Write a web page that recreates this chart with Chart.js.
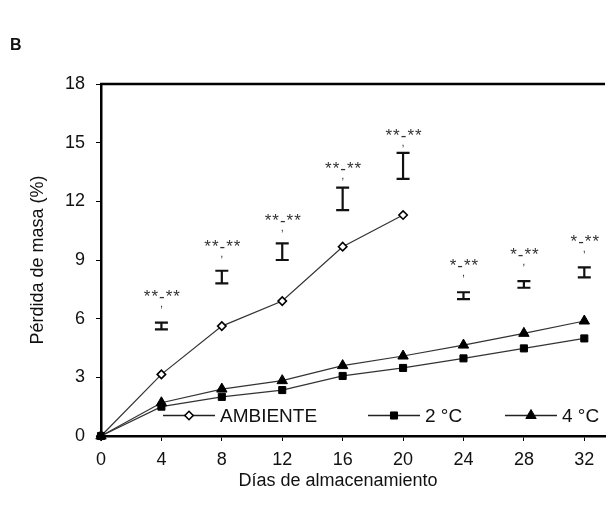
<!DOCTYPE html>
<html><head><meta charset="utf-8">
<script src="https://cdn.jsdelivr.net/npm/chart.js@4/dist/chart.umd.min.js"></script>
<style>html,body{margin:0;padding:0;background:#fff}#wrap{width:612px;height:513px;position:relative}</style>
</head><body><div id="wrap"><canvas id="c" width="612" height="513"></canvas></div>
<script>
const days = [0,4,8,12,16,20,24,28,32];
const ambiente = [0,3.15,5.62,6.9,9.68,11.3];
const frio2 = [0,1.5,2.0,2.35,3.07,3.48,3.97,4.48,4.99];
const frio4 = [0,1.7,2.4,2.83,3.6,4.09,4.65,5.25,5.88];
const barDays = [4,8,12,16,20,24,28,32];
const barLow = [5.45,7.8,9.0,11.55,13.15,7.0,7.58,8.11];
const barHigh = [5.8,8.45,9.85,12.7,14.48,7.35,7.92,8.62];
const sigLabels = ['**-**','**-**','**-**','**-**','**-**','*-**','*-**','*-**'];
const sigY = [7.38,9.94,11.25,13.9,15.61,8.95,9.51,10.19];
const yTicks = [0,3,6,9,12,15,18];
const xTicks = [0,4,8,12,16,20,24,28,32];
const seriesNames = ['AMBIENTE','2 °C','4 °C'];
const xTitle = 'Días de almacenamiento';
const yTitle = 'Pérdida de masa (%)';
const panel = 'B';

const FONT = "'Liberation Sans', Arial, sans-serif";
const pts = (arr) => arr.map((v,i)=>({x:days[i], y:v}));

const extras = {
  id:'extras',
  afterDraw(chart){
    const ctx = chart.ctx, a = chart.chartArea;
    const xs = chart.scales.x, ys = chart.scales.y;
    ctx.save();
    ctx.strokeStyle='#000'; ctx.lineWidth=2.5;
    ctx.beginPath(); ctx.moveTo(a.left-1, a.top); ctx.lineTo(a.right, a.top); ctx.stroke();
    ctx.lineWidth=2.2; ctx.strokeStyle='#111';
    barDays.forEach((d,i)=>{
      const x = xs.getPixelForValue(d);
      const y1 = ys.getPixelForValue(barLow[i]), y2 = ys.getPixelForValue(barHigh[i]);
      ctx.beginPath();
      ctx.moveTo(x, y1); ctx.lineTo(x, y2);
      ctx.moveTo(x-6.5, y1); ctx.lineTo(x+6.5, y1);
      ctx.moveTo(x-6.5, y2); ctx.lineTo(x+6.5, y2);
      ctx.stroke();
    });
    ctx.fillStyle='#333'; ctx.textAlign='center'; ctx.textBaseline='alphabetic';
    barDays.forEach((d,i)=>{
      const x = xs.getPixelForValue(d);
      const y = ys.getPixelForValue(sigY[i]);
      ctx.font = '17px ' + FONT;
      ctx.letterSpacing = '1px';
      ctx.fillText(sigLabels[i], x+1, y+10);
      ctx.letterSpacing = '0px';
      ctx.font = '11px ' + FONT;
      ctx.fillText(',', x, y+15);
    });
    const ly = a.bottom - 20.5;
    const starts = [a.left+62, a.left+267, a.left+404];
    chart.data.datasets.forEach((ds,i)=>{
      const x0 = starts[i];
      ctx.strokeStyle='#222'; ctx.lineWidth=1.3;
      ctx.beginPath(); ctx.moveTo(x0, ly); ctx.lineTo(x0+52, ly); ctx.stroke();
      ctx.fillStyle = ds.pointBackgroundColor; ctx.strokeStyle='#000'; ctx.lineWidth = ds.pointBorderWidth;
      Chart.helpers.drawPoint(ctx, {pointStyle: ds.pointStyle, radius: ds.pointRadius, borderWidth: ds.pointBorderWidth, rotation:0}, x0+26, ly);
      ctx.font = '19px ' + FONT; ctx.textAlign='left'; ctx.textBaseline='middle';
      ctx.fillStyle='#111';
      ctx.fillText(ds.label, x0+57, ly+1);
    });
    ctx.fillStyle='#111'; ctx.font = '18px ' + FONT; ctx.textAlign='center'; ctx.textBaseline='middle';
    ctx.fillText(xTitle, 338, 481);
    ctx.save(); ctx.translate(38, 260); ctx.rotate(-Math.PI/2); ctx.fillText(yTitle, 0, 0); ctx.restore();
    ctx.font = 'bold 16px ' + FONT; ctx.textAlign='left';
    ctx.fillText(panel, 10, 46);
    ctx.restore();
  }
};

const mk = (label, data, style, r, fill, bw, order) => ({
  label, data, borderColor:'#333', borderWidth:1.2, pointStyle:style, pointRadius:r,
  pointHoverRadius:r, pointBackgroundColor:fill, pointBorderColor:'#000', pointBorderWidth:bw,
  fill:false, tension:0, clip:false, order
});

new Chart(document.getElementById('c'), {
  type:'line',
  data:{datasets:[
    mk(seriesNames[0], pts(ambiente), 'rectRot', 4.2, '#fff', 1.6, 3),
    mk(seriesNames[1], pts(frio2), 'rect', 5, '#000', 1, 2),
    mk(seriesNames[2], pts(frio4), 'triangle', 6, '#000', 1, 1)
  ]},
  options:{
    responsive:false, animation:false, devicePixelRatio:1,
    layout:{padding:{top:84, left:0, right:0, bottom:0}},
    plugins:{legend:{display:false}, tooltip:{enabled:false}},
    scales:{
      x:{type:'linear', min:0, max:33.37,
        afterBuildTicks:s=>{s.ticks = xTicks.map(v=>({value:v}));},
        afterFit:s=>{s.height=77;},
        grid:{display:true, drawOnChartArea:false, drawTicks:true, tickLength:5, color:'#000', lineWidth:1},
        border:{display:true, width:2.5, color:'#000'},
        ticks:{font:{family:FONT, size:18}, color:'#111', padding:8, maxRotation:0}
      },
      y:{min:0, max:18,
        afterBuildTicks:s=>{s.ticks = yTicks.map(v=>({value:v}));},
        afterFit:s=>{s.width=101;},
        grid:{display:true, drawOnChartArea:false, drawTicks:true, tickLength:5, color:'#000', lineWidth:1},
        border:{display:true, width:2.5, color:'#000'},
        ticks:{font:{family:FONT, size:18}, color:'#111', padding:11}
      }
    }
  },
  plugins:[extras]
});
</script></body></html>
